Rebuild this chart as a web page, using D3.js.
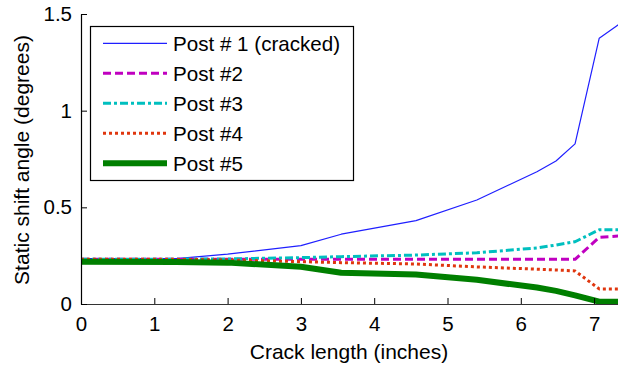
<!DOCTYPE html>
<html>
<head>
<meta charset="utf-8">
<script src="https://cdn.jsdelivr.net/npm/d3@7"></script>
<style>
  html, body { margin: 0; padding: 0; background: #fff; }
  svg { display: block; }
  text { font-family: "Liberation Sans", Arial, Helvetica, sans-serif; fill: #000; }
</style>
</head>
<body>
<svg id="chart" width="618" height="367"></svg>
<script>
// Crack length (inches) at which each static shift angle was evaluated
const crackLength = [0, 1.3, 2.0, 3.0, 3.55, 4.57, 5.4, 6.22, 6.48, 6.74, 7.07, 7.35];

// Static shift angle (degrees) per post
const post1 = [0.235, 0.235, 0.258, 0.302, 0.361, 0.431, 0.538, 0.684, 0.740, 0.828, 1.375, 1.45];
const post2 = [0.231, 0.231, 0.231, 0.231, 0.231, 0.231, 0.231, 0.231, 0.231, 0.231, 0.345, 0.352];
const post3 = [0.232, 0.232, 0.233, 0.240, 0.245, 0.253, 0.265, 0.290, 0.305, 0.322, 0.384, 0.384];
const post4 = [0.231, 0.231, 0.228, 0.219, 0.214, 0.207, 0.192, 0.180, 0.176, 0.171, 0.078, 0.078];
const post5 = [0.219, 0.217, 0.214, 0.193, 0.162, 0.152, 0.125, 0.085, 0.068, 0.045, 0.012, 0.012];

const seriesNames = ["Post # 1 (cracked)", "Post #2", "Post #3", "Post #4", "Post #5"];
const xTicks = [0, 1, 2, 3, 4, 5, 6, 7];
const yTicks = [0, 0.5, 1, 1.5];

const styles = [
  { color: "#1f1fff", width: 1.2, dash: null },
  { color: "#c000c0", width: 3, dash: "8,4" },
  { color: "#00bfbf", width: 3, dash: "8,3,3,3" },
  { color: "#e0360e", width: 3, dash: "3,3" },
  { color: "#007f00", width: 6, dash: null }
];

const svg = d3.select("#chart");
const x0 = 81, yTop = 14, yBottom = 304, pxPerInch = 73.3;

const x = d3.scaleLinear().domain([0, 7.5]).range([x0, x0 + 7.5 * pxPerInch]);
const y = d3.scaleLinear().domain([0, 1.5]).range([yBottom, yTop]);

const series = [post1, post2, post3, post4, post5];

// Data lines
const line = d3.line().x((d, i) => x(crackLength[i])).y(d => y(d));
const plot = svg.append("g");
series.forEach((vals, k) => {
  const s = styles[k];
  plot.append("path")
    .datum(vals)
    .attr("d", line)
    .attr("fill", "none")
    .attr("stroke", s.color)
    .attr("stroke-width", s.width)
    .attr("stroke-dasharray", s.dash)
    .attr("stroke-linejoin", "round");
});

// Axes with inward ticks
const xAxis = d3.axisBottom(x).tickValues(xTicks).tickFormat(d3.format("d"))
  .tickSizeInner(-6).tickSizeOuter(0).tickPadding(12);
const gx = svg.append("g").attr("transform", `translate(0,${yBottom})`).call(xAxis);
gx.select(".domain").attr("stroke", "#333").attr("stroke-width", 1.2);
gx.selectAll(".tick line").attr("stroke", "#000");
gx.selectAll(".tick text").attr("font-size", 20.5).attr("font-family", "Liberation Sans, Arial, sans-serif").attr("fill", "#000");

const yAxis = d3.axisLeft(y).tickValues(yTicks).tickFormat(d => d3.format("~g")(d))
  .tickSizeInner(-6).tickSizeOuter(0).tickPadding(9);
const gy = svg.append("g").attr("transform", `translate(${x0},0)`).call(yAxis);
gy.select(".domain").attr("stroke", "#000").attr("stroke-width", 1.2);
gy.selectAll(".tick line").attr("stroke", "#000");
gy.selectAll(".tick text").attr("font-size", 20.5).attr("font-family", "Liberation Sans, Arial, sans-serif").attr("fill", "#000");

// Axis titles
svg.append("text")
  .attr("x", 349).attr("y", 359)
  .attr("text-anchor", "middle").attr("font-size", 21)
  .text("Crack length (inches)");
svg.append("text")
  .attr("transform", "translate(29,160) rotate(-90)")
  .attr("text-anchor", "middle").attr("font-size", 21)
  .text("Static shift angle (degrees)");

// Legend
const legend = svg.append("g");
legend.append("rect")
  .attr("x", 90.5).attr("y", 26.5).attr("width", 263).attr("height", 154)
  .attr("fill", "#fff").attr("stroke", "#000").attr("stroke-width", 1.2);
const rowY = [43.3, 73.3, 103.3, 133.3, 163.3];
seriesNames.forEach((name, k) => {
  const s = styles[k];
  legend.append("line")
    .attr("x1", 103).attr("x2", 167).attr("y1", rowY[k]).attr("y2", rowY[k])
    .attr("stroke", s.color).attr("stroke-width", s.width)
    .attr("stroke-dasharray", s.dash);
  legend.append("text")
    .attr("x", 173).attr("y", rowY[k] + 7.5)
    .attr("font-size", 20.6)
    .text(name);
});
</script>
</body>
</html>
